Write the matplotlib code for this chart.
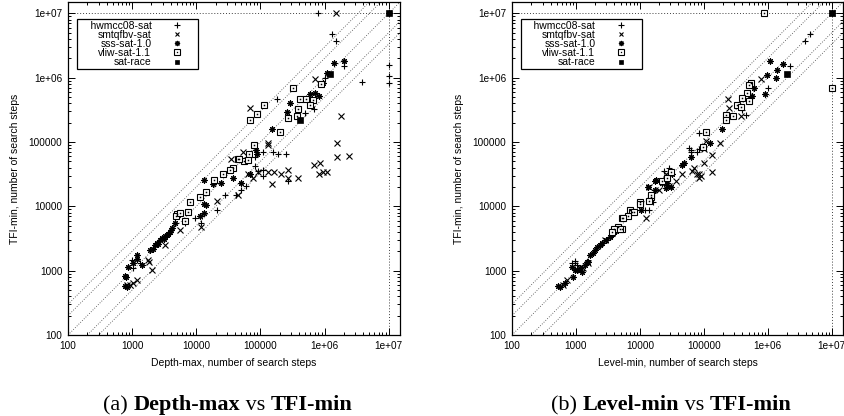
import matplotlib
matplotlib.use('Agg')
import matplotlib.pyplot as plt
import numpy as np
from matplotlib.ticker import FixedLocator, LogLocator, NullFormatter

# ---- (a) Depth-max vs TFI-min ----
depth_hwmcc_x = [7.8e5, 1.3e6, 1.5e6, 2e6, 1e6, 3.9e6, 1e7, 1e7, 1e7, 1.8e5, 6.8e5, 5e5, 1.1e5, 1.55e5, 1.9e5,
                 2.5e5, 1.1e5, 1.1e5, 8.1e4, 2.7e5, 2.1e4, 1.2e4, 4.1e4, 4.9e4, 1000, 1340, 1030, 2750, 3900,
                 6700, 9600, 2.8e4, 5.9e4, 9.3e4, 8.3e4]
depth_hwmcc_y = [1e7, 4.7e6, 3.7e6, 1.5e6, 1e6, 8.7e5, 1.55e6, 1.07e6, 8.3e5, 4.7e5, 3.2e5, 2.8e5, 7.1e4, 6.9e4, 6.6e4,
                 6.4e4, 3.7e4, 3e4, 4.2e4, 2.5e4, 8700, 5600, 1.5e4, 1.8e4, 1450, 1300, 1100, 2950, 3950,
                 5600, 6500, 1.5e4, 2.1e4, 3.6e4, 5.8e4]
depth_smt_x = [1.5e6, 7.2e5, 6.8e4, 1.8e6, 1.55e6, 1.55e6, 2.4e6, 6.9e5, 8.6e5, 8.3e5, 9.6e5, 1.1e6, 1.6e5, 2.1e5,
               2.7e5, 2.7e5, 3.9e5, 9.3e4, 1.3e5, 1.3e5, 1.3e5, 5.4e4, 3.5e4, 6.3e4, 7.6e4, 1.5e5, 1.2e4, 4.4e4,
               2050, 1780, 1800, 930, 1030, 1200, 830, 3300, 5600, 2.1e4]
depth_smt_y = [1e7, 9.6e5, 3.4e5, 2.5e5, 9.6e4, 5.8e4, 6e4, 4.4e4, 4.8e4, 3.2e4, 3.4e4, 3.4e4, 3.4e4, 3.2e4,
               3.7e4, 2.8e4, 2.8e4, 3.4e4, 3.4e4, 9.8e4, 9.1e4, 6.9e4, 5.4e4, 3.2e4, 2.8e4, 2.2e4, 4700, 1.5e4,
               1020, 1450, 1350, 600, 640, 710, 600, 2500, 4300, 1.2e4]
depth_sss_x = [1e7, 1.4e6, 2e6, 1.1e6, 9.3e5, 2.9e5, 6e5, 7.2e5, 8.3e5, 2.6e5, 1.5e5, 8.6e4, 8.9e4, 3.8e4, 4.9e4,
               1.3e4, 1.8e4, 1.3e4, 1.4e4, 1.3e4, 780, 800, 780, 830, 1200, 1200, 1440, 860, 1030, 1900, 2300,
               2750, 3300, 3900, 4200, 4700, 2550, 2950, 3600, 2.4e4, 6.9e4, 1.15e4, 2100, 2450, 3100, 3500, 4000]
depth_sss_y = [1e7, 1.7e6, 1.8e6, 1.2e6, 8.3e5, 4.1e5, 5.6e5, 5.8e5, 5.2e5, 2.9e5, 1.6e5, 7.4e4, 6.6e4, 2.8e4, 2.3e4,
               2.6e4, 2.2e4, 1.1e4, 1.05e4, 7800, 820, 800, 575, 560, 1740, 1500, 1220, 1130, 1300, 2100, 2500,
               2950, 3400, 3950, 4600, 5500, 2600, 3200, 3700, 2.3e4, 3.2e4, 7200, 2200, 2700, 3100, 3600, 4300]
depth_vliw_x = [3.2e5, 4.2e5, 5.2e5, 6.5e5, 8.9e5, 6e5, 3.9e5, 2.7e5, 3.7e5, 1.15e5, 8.9e4, 6.9e4, 2e5, 7.8e4,
                6.7e4, 4.4e4, 5.6e4, 3.8e4, 3.4e4, 2.6e4, 1.9e4, 1.4e4, 1.15e4, 8100, 5000, 7500, 6700, 4900,
                5600, 4.6e4, 6.3e4]
depth_vliw_y = [6.8e5, 4.7e5, 4.7e5, 4.5e5, 8.1e5, 3.7e5, 3.3e5, 2.4e5, 2.5e5, 3.8e5, 2.7e5, 2.2e5, 1.45e5, 8.9e4,
                6.6e4, 5.5e4, 5e4, 4e4, 3.7e4, 3.2e4, 2.6e4, 1.7e4, 1.4e4, 1.15e4, 7500, 8100, 6000, 7200,
                7800, 5.4e4, 5.2e4]
depth_race_x = [1e7, 1.2e6, 4.2e5]
depth_race_y = [1e7, 1.15e6, 2.2e5]

# ---- (b) Level-min vs TFI-min ----
level_hwmcc_x = [4.6e6, 3.8e6, 2.2e6, 1e6, 4.6e5, 4e5, 8.5e4, 5.9e4, 6.3e4, 8.5e4, 7.9e4, 6.3e4, 2.9e4, 2.4e4,
                 1.2e4, 1.6e4, 1.4e4, 960, 1030, 960, 860, 2350, 3600]
level_hwmcc_y = [4.7e6, 3.7e6, 1.5e6, 6.9e5, 2.6e5, 3.1e5, 1.4e5, 8.1e4, 6.9e4, 7.9e4, 6.9e4, 7.4e4, 3.9e4, 3.6e4,
                 8700, 1.15e4, 8900, 1300, 1220, 1400, 1300, 2400, 3400]
level_smt_x = [1e7, 7.8e5, 2.4e5, 2.5e5, 3.8e5, 1.8e5, 1.1e5, 1e5, 1.35e5, 1e5, 1.35e5, 8.5e4, 8.5e4, 6.6e4, 7.9e4,
               9.1e4, 7.1e4, 2.9e4, 3.7e4, 4.6e4, 2.6e4, 1.25e4, 1.4e4, 2e4, 720, 620, 1150, 1280, 1520, 2800]
level_smt_y = [1e7, 9.6e5, 4.6e5, 3.4e5, 2.5e5, 9.6e4, 1.05e5, 7.9e4, 6.2e4, 4.8e4, 3.4e4, 3.2e4, 2.8e4, 3.6e4,
               3.2e4, 3e4, 3.9e4, 2.1e4, 2.5e4, 3.2e4, 3.2e4, 6700, 2e4, 1.8e4, 710, 600, 1020, 1100, 1300, 2950]
level_sss_x = [1e7, 1.07e6, 1.7e6, 1.4e6, 9.8e5, 1.35e6, 6.1e5, 9.1e5, 5.3e5, 5.6e5, 1.95e5, 1.25e5, 6.3e4, 4.9e4,
               4.6e4, 3.2e4, 2.6e4, 2.2e4, 1.7e4, 1.35e4, 1.7e4, 1.8e4, 1.05e4, 2.6e4, 3.1e4, 2.7e4, 520, 560,
               670, 890, 1030, 1150, 1470, 1830, 2100, 2350, 3000, 3700, 1630, 4300, 960, 1370, 1520, 1230, 860,
               1960, 2600, 3400]
level_sss_y = [1e7, 1.8e6, 1.65e6, 1.3e6, 1.1e6, 1e6, 6.9e5, 5.6e5, 4.9e5, 5.2e5, 1.6e5, 9.8e4, 5.8e4, 4.8e4,
               4.4e4, 3.2e4, 2.5e4, 2.3e4, 2.5e4, 2e4, 1.8e4, 2.6e4, 8700, 1.9e4, 2e4, 2.3e4, 575, 560,
               640, 790, 1020, 1100, 1350, 1870, 2300, 2500, 2950, 3800, 1740, 4200, 1020, 1220, 1350, 950, 1130,
               2100, 2700, 3300]
level_vliw_x = [8.7e5, 1e7, 5.5e5, 5.1e5, 4.8e5, 4e5, 5.1e5, 3.3e5, 3.8e5, 2.9e5, 2.2e5, 2.2e5, 1.1e5, 9.6e4,
                2.2e4, 2.7e4, 3.1e4, 1.5e4, 1.4e4, 1.02e4, 1.5e4, 9900, 6900, 7600, 5300, 6400, 4500, 5200,
                4000, 3700, 5500, 8200, 4800]
level_vliw_y = [1e7, 6.8e5, 8.3e5, 7.8e5, 5.8e5, 4.9e5, 4.4e5, 3.8e5, 3.5e5, 2.5e5, 2.6e5, 2.2e5, 1.45e5, 8.5e4,
                2.5e4, 2.8e4, 3.4e4, 1.4e4, 1.2e4, 1.15e4, 1.5e4, 1.1e4, 8700, 8100, 6500, 7200, 4700, 4500,
                4500, 4000, 6500, 8100, 4400]
level_race_x = [1e7, 2e6]
level_race_y = [1e7, 1.15e6]

labels = ['hwmcc08-sat', 'smtqfbv-sat', 'sss-sat-1.0', 'vliw-sat-1.1', 'sat-race']
ratios = [1 / 3, 1 / 2, 1, 2, 3]
timeout = 1e7
major = [1e2, 1e3, 1e4, 1e5, 1e6, 1e7]
major_labels = ['100', '1000', '10000', '100000', '1e+06', '1e+07']

plt.rcParams['font.family'] = ['Liberation Sans', 'DejaVu Sans']

W, H = 845, 416
fig = plt.figure(figsize=(W / 100, H / 100), dpi=100)


def panel(ax, series, xlabel):
    lim = (100, 1.5e7)
    xs = np.array(lim)
    for r in ratios:
        ax.plot(xs, xs * r, ls=(0, (1, 2)), color='0.25', lw=0.6, zorder=1)
    ax.axhline(timeout, ls=(0, (1, 2)), color='0.25', lw=0.7, zorder=1)
    ax.axvline(timeout, ls=(0, (1, 2)), color='0.25', lw=0.7, zorder=1)

    (hx, hy), (sx, sy), (ax_, ay), (vx, vy), (rx, ry) = series
    kw = dict(ls='none', color='black', zorder=3)
    h1, = ax.plot(hx, hy, marker='+', ms=4.8, mew=0.8, **kw)
    h2, = ax.plot(sx, sy, marker='x', ms=4, mew=0.8, **kw)
    h3, = ax.plot(ax_, ay, marker=(8, 2, 0), ms=4.4, mew=0.8, **kw)
    h4a, = ax.plot(vx, vy, marker='s', ms=4.4, mew=0.8, mfc='white', **kw)
    h4b, = ax.plot(vx, vy, marker='s', ms=1.1, mew=0, mfc='black', **kw)
    h5, = ax.plot(rx, ry, marker='s', ms=4.2, mew=0.5, **kw)

    ax.set_xscale('log')
    ax.set_yscale('log')
    ax.set_xlim(*lim)
    ax.set_ylim(*lim)
    for axis in (ax.xaxis, ax.yaxis):
        axis.set_major_locator(FixedLocator(major))
        axis.set_minor_locator(LogLocator(base=10, subs=range(2, 10), numticks=20))
        axis.set_minor_formatter(NullFormatter())
    ax.set_xticklabels(major_labels)
    ax.set_yticklabels(major_labels)
    ax.tick_params(which='both', direction='in', top=True, right=True, labelsize=7.2, width=0.7, pad=4)
    ax.tick_params(which='major', length=5)
    ax.tick_params(which='minor', length=2.5)
    for s in ax.spines.values():
        s.set_linewidth(0.9)

    ax.set_xlabel(xlabel, fontsize=7.5, labelpad=5)
    ax.set_ylabel('TFI-min, number of search steps', fontsize=7.5)
    ax.yaxis.set_label_coords(-0.145, 0.5)

    # gnuplot-like key: labels right-aligned, sample mark on the right
    padded = ['    ' + labels[0]] + labels[1:]
    leg = ax.legend([h1, h2, h3, (h4a, h4b), h5], padded, loc='upper left',
                    bbox_to_anchor=(0.027, 0.949), markerfirst=False, fontsize=7.5,
                    frameon=True, fancybox=False, edgecolor='black', framealpha=1,
                    labelspacing=-0.08, borderpad=0.15, handlelength=3.6, handletextpad=0.7,
                    borderaxespad=0, markerscale=0.85)
    leg.get_frame().set_linewidth(0.9)


ax1 = fig.add_axes([68 / W, 81 / H, 332 / W, 333 / H])
panel(ax1, [(depth_hwmcc_x, depth_hwmcc_y), (depth_smt_x, depth_smt_y), (depth_sss_x, depth_sss_y),
            (depth_vliw_x, depth_vliw_y), (depth_race_x, depth_race_y)],
      'Depth-max, number of search steps')

ax2 = fig.add_axes([512 / W, 81 / H, 331 / W, 333 / H])
panel(ax2, [(level_hwmcc_x, level_hwmcc_y), (level_smt_x, level_smt_y), (level_sss_x, level_sss_y),
            (level_vliw_x, level_vliw_y), (level_race_x, level_race_y)],
      'Level-min, number of search steps')


# captions: mixed regular / bold serif pieces, centred on a given x
def caption(cx, cy, pieces):
    renderer = fig.canvas.get_renderer()
    texts, widths = [], []
    for s, bold in pieces:
        t = fig.text(0, cy, s, fontsize=16, family='Liberation Serif',
                     weight='bold' if bold else 'normal', va='baseline', ha='left')
        texts.append(t)
        widths.append(t.get_window_extent(renderer).width)
    x = cx - sum(widths) / 2
    for t, w in zip(texts, widths):
        t.set_x(x / W)
        x += w


base = 1 - 410 / H
caption(228, base, [('(a) ', False), ('Depth-max', True), (' vs ', False), ('TFI-min', True)])
caption(671, base, [('(b) ', False), ('Level-min', True), (' vs ', False), ('TFI-min', True)])

fig.savefig('out.png', dpi=100)
